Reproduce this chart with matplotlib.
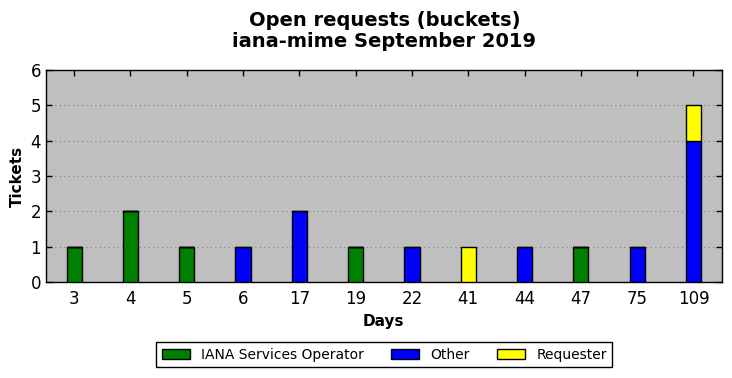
import matplotlib
matplotlib.use("Agg")
import matplotlib.pyplot as plt
import numpy as np

days = ["3", "4", "5", "6", "17", "19", "22", "41", "44", "47", "75", "109"]
iana = [1, 2, 1, 0, 0, 1, 0, 0, 0, 1, 0, 0]
other = [0, 0, 0, 1, 2, 0, 1, 0, 1, 0, 1, 4]
requester = [0, 0, 0, 0, 0, 0, 0, 1, 0, 0, 0, 1]

fig = plt.figure(figsize=(7.32, 3.78), dpi=100)
ax = fig.add_axes([0.0628, 0.254, 0.923, 0.561])
ax.set_facecolor("#bfbfbf")

x = np.arange(len(days))
w = 0.27
iana_a = np.array(iana)
other_a = np.array(other)
req_a = np.array(requester)
ax.bar(x, iana_a, w, color="#008000", edgecolor="black", linewidth=1, label="IANA Services Operator", zorder=3)
ax.bar(x, other_a, w, bottom=iana_a, color="#0000ff", edgecolor="black", linewidth=1, label="Other", zorder=3)
ax.bar(x, req_a, w, bottom=iana_a + other_a, color="#ffff00", edgecolor="black", linewidth=1, label="Requester", zorder=3)

ax.set_xlim(-0.5, len(days) - 0.5)
ax.set_ylim(0, 6)
ax.set_xticks(x)
ax.set_xticklabels(days, fontsize=12)
ax.set_yticks(range(7))
ax.tick_params(axis="y", labelsize=12)
ax.tick_params(direction="in", top=True, right=True, length=4, width=1)
ax.tick_params(axis="x", pad=6)
ax.yaxis.grid(True, linestyle=(0, (1, 3)), color="#808080", linewidth=0.8, zorder=0)
ax.set_axisbelow(True)
for s in ax.spines.values():
    s.set_linewidth(1)

ax.set_xlabel("Days", fontsize=11, fontweight="bold")
ax.set_ylabel("Tickets", fontsize=11, fontweight="bold")
fig.text(0.525, 0.918, "Open requests (buckets)\niana-mime September 2019",
         fontsize=14, fontweight="bold", ha="center", va="center", linespacing=1.15)

fig.legend(loc="center", bbox_to_anchor=(0.525, 0.061), ncol=3, fontsize=10,
           fancybox=False, edgecolor="black", framealpha=1, handlelength=2.0,
           columnspacing=2.0, borderpad=0.4)
fig.savefig("out.png", dpi=100)
